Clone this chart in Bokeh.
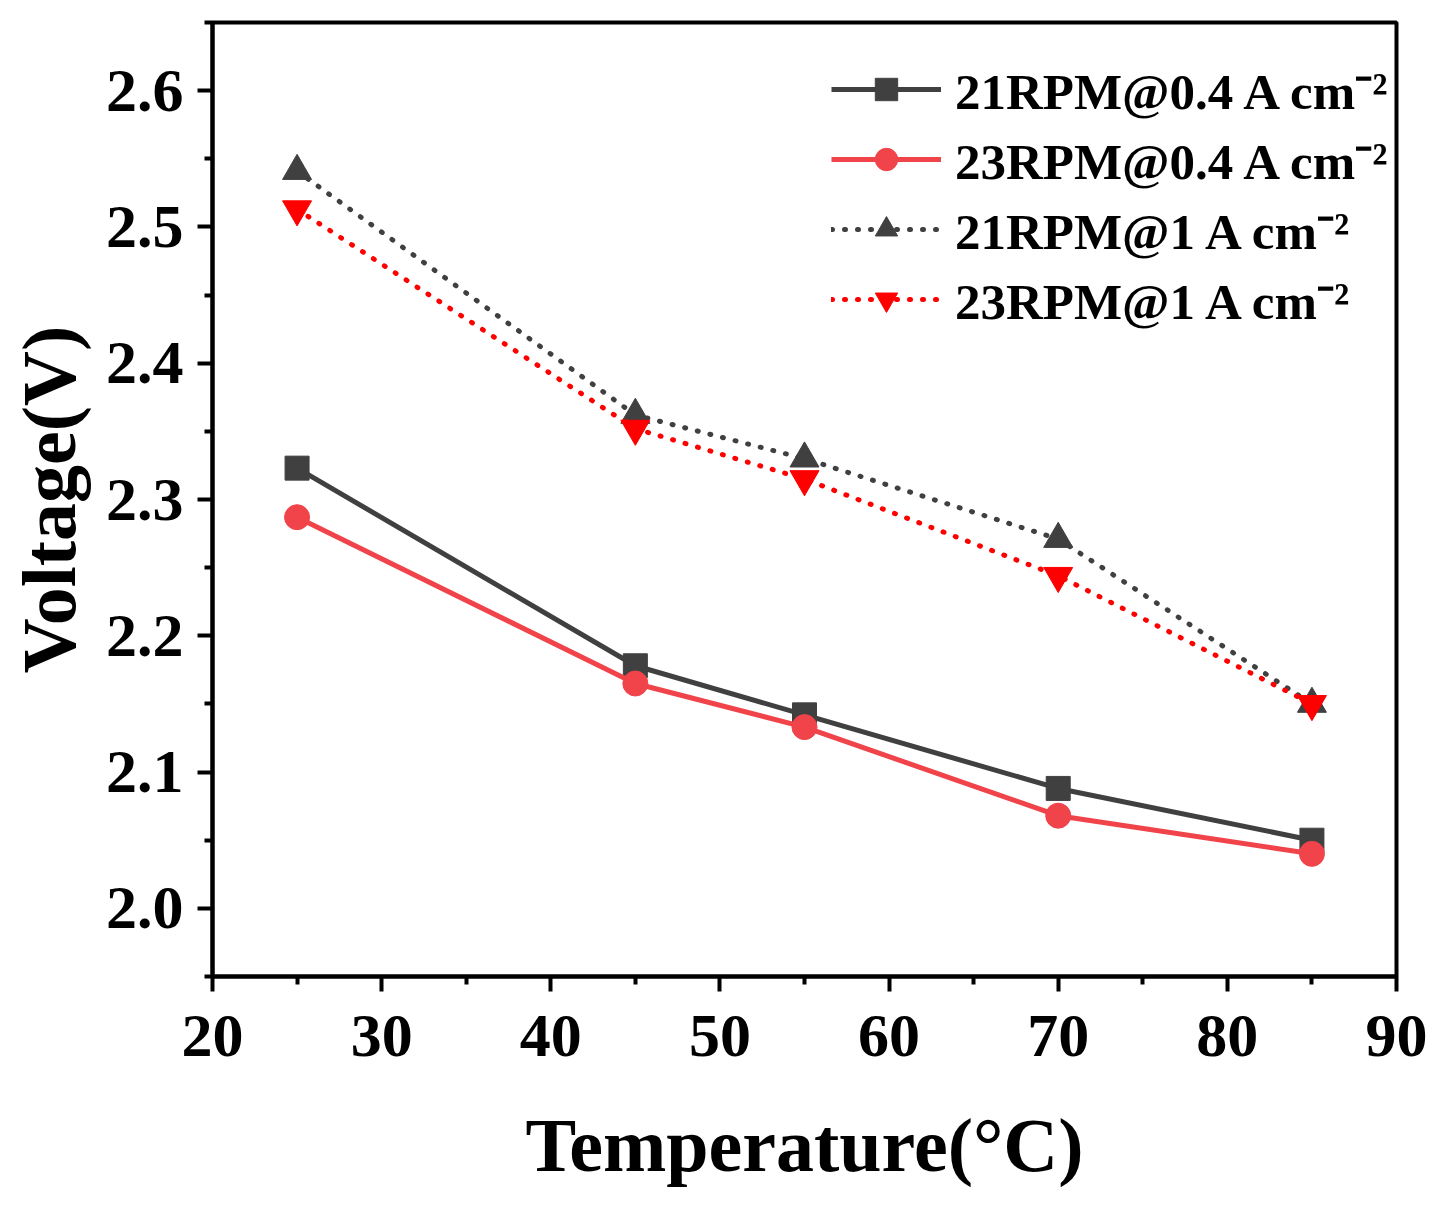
from bokeh.plotting import figure
from bokeh.models import Legend, LegendItem, FixedTicker, Range1d, NumeralTickFormatter
from bokeh.embed import file_html
from bokeh.resources import INLINE

temperature = [25, 45, 55, 70, 85]
v_21rpm_04 = [2.323, 2.178, 2.142, 2.088, 2.050]
v_23rpm_04 = [2.287, 2.165, 2.133, 2.068, 2.040]
v_21rpm_1 = [2.541, 2.362, 2.330, 2.271, 2.150]
v_23rpm_1 = [2.513, 2.352, 2.315, 2.244, 2.150]

labels = ["21RPM@0.4 A cm\u207b\u00b2", "23RPM@0.4 A cm\u207b\u00b2",
          "21RPM@1 A cm\u207b\u00b2", "23RPM@1 A cm\u207b\u00b2"]

FONT = "Liberation Serif"
GRAY = "#404040"
RED_SOLID = "#f0434a"
RED_DOT = "#ff0000"

p = figure(frame_width=1184, frame_height=954, output_backend="svg", toolbar_location=None,
           x_range=Range1d(20, 90), y_range=Range1d(1.95, 2.65),
           min_border_left=212, min_border_right=44, min_border_top=22, min_border_bottom=224)
p.background_fill_color = "white"
p.border_fill_color = "white"
p.grid.visible = False
p.outline_line_color = "black"
p.outline_line_width = 4

r1 = p.line(temperature, v_21rpm_04, line_color=GRAY, line_width=5)
m1 = p.scatter(temperature, v_21rpm_04, marker="square", size=24, color=GRAY)
r2 = p.line(temperature, v_23rpm_04, line_color=RED_SOLID, line_width=5)
m2 = p.scatter(temperature, v_23rpm_04, marker="circle", size=25, color=RED_SOLID)
r3 = p.line(temperature, v_21rpm_1, line_color=GRAY, line_width=5, line_dash="1 12", line_cap="round")
m3 = p.scatter(temperature, v_21rpm_1, marker="triangle", size=29, color=GRAY)
r4 = p.line(temperature, v_23rpm_1, line_color=RED_DOT, line_width=5, line_dash="1 12", line_cap="round")
m4 = p.scatter(temperature, v_23rpm_1, marker="inverted_triangle", size=29, color=RED_DOT)

p.xaxis.ticker = FixedTicker(ticks=[20, 30, 40, 50, 60, 70, 80, 90],
                             minor_ticks=[25, 35, 45, 55, 65, 75, 85])
p.yaxis.ticker = FixedTicker(ticks=[2.0, 2.1, 2.2, 2.3, 2.4, 2.5, 2.6],
                             minor_ticks=[1.95, 2.05, 2.15, 2.25, 2.35, 2.45, 2.55, 2.65])
p.yaxis.formatter = NumeralTickFormatter(format="0.0")

for ax in (p.xaxis[0], p.yaxis[0]):
    ax.axis_line_width = 4
    ax.major_tick_line_width = 4
    ax.minor_tick_line_width = 4
    ax.major_tick_out = 15
    ax.major_tick_in = 0
    ax.minor_tick_out = 8
    ax.minor_tick_in = 0
    ax.major_label_text_font = FONT
    ax.major_label_text_font_style = "bold"
    ax.major_label_text_font_size = "62px"
    ax.major_label_text_color = "black"
    ax.axis_label_text_font = FONT
    ax.axis_label_text_font_style = "bold"
    ax.axis_label_text_font_size = "76px"
    ax.axis_label_text_color = "black"

p.xaxis.axis_label = "Temperature(\u00b0C)"
p.yaxis.axis_label = "Voltage(V)"
p.xaxis.major_label_standoff = 24
p.xaxis.axis_label_standoff = 44
p.yaxis.major_label_standoff = 14
p.yaxis.axis_label_standoff = 12

legend = Legend(items=[LegendItem(label=labels[0], renderers=[r1, m1]),
                       LegendItem(label=labels[1], renderers=[r2, m2]),
                       LegendItem(label=labels[2], renderers=[r3, m3]),
                       LegendItem(label=labels[3], renderers=[r4, m4])],
                location=(619, 642))
legend.border_line_color = None
legend.background_fill_alpha = 0
legend.label_text_font = FONT
legend.label_text_font_style = "bold"
legend.label_text_font_size = "51px"
legend.label_text_color = "black"
legend.glyph_width = 110
legend.glyph_height = 56
legend.label_height = 56
legend.spacing = 0
legend.label_standoff = 14
legend.padding = 10
p.add_layout(legend, "center")

open("out.html", "w").write(file_html(p, INLINE))
